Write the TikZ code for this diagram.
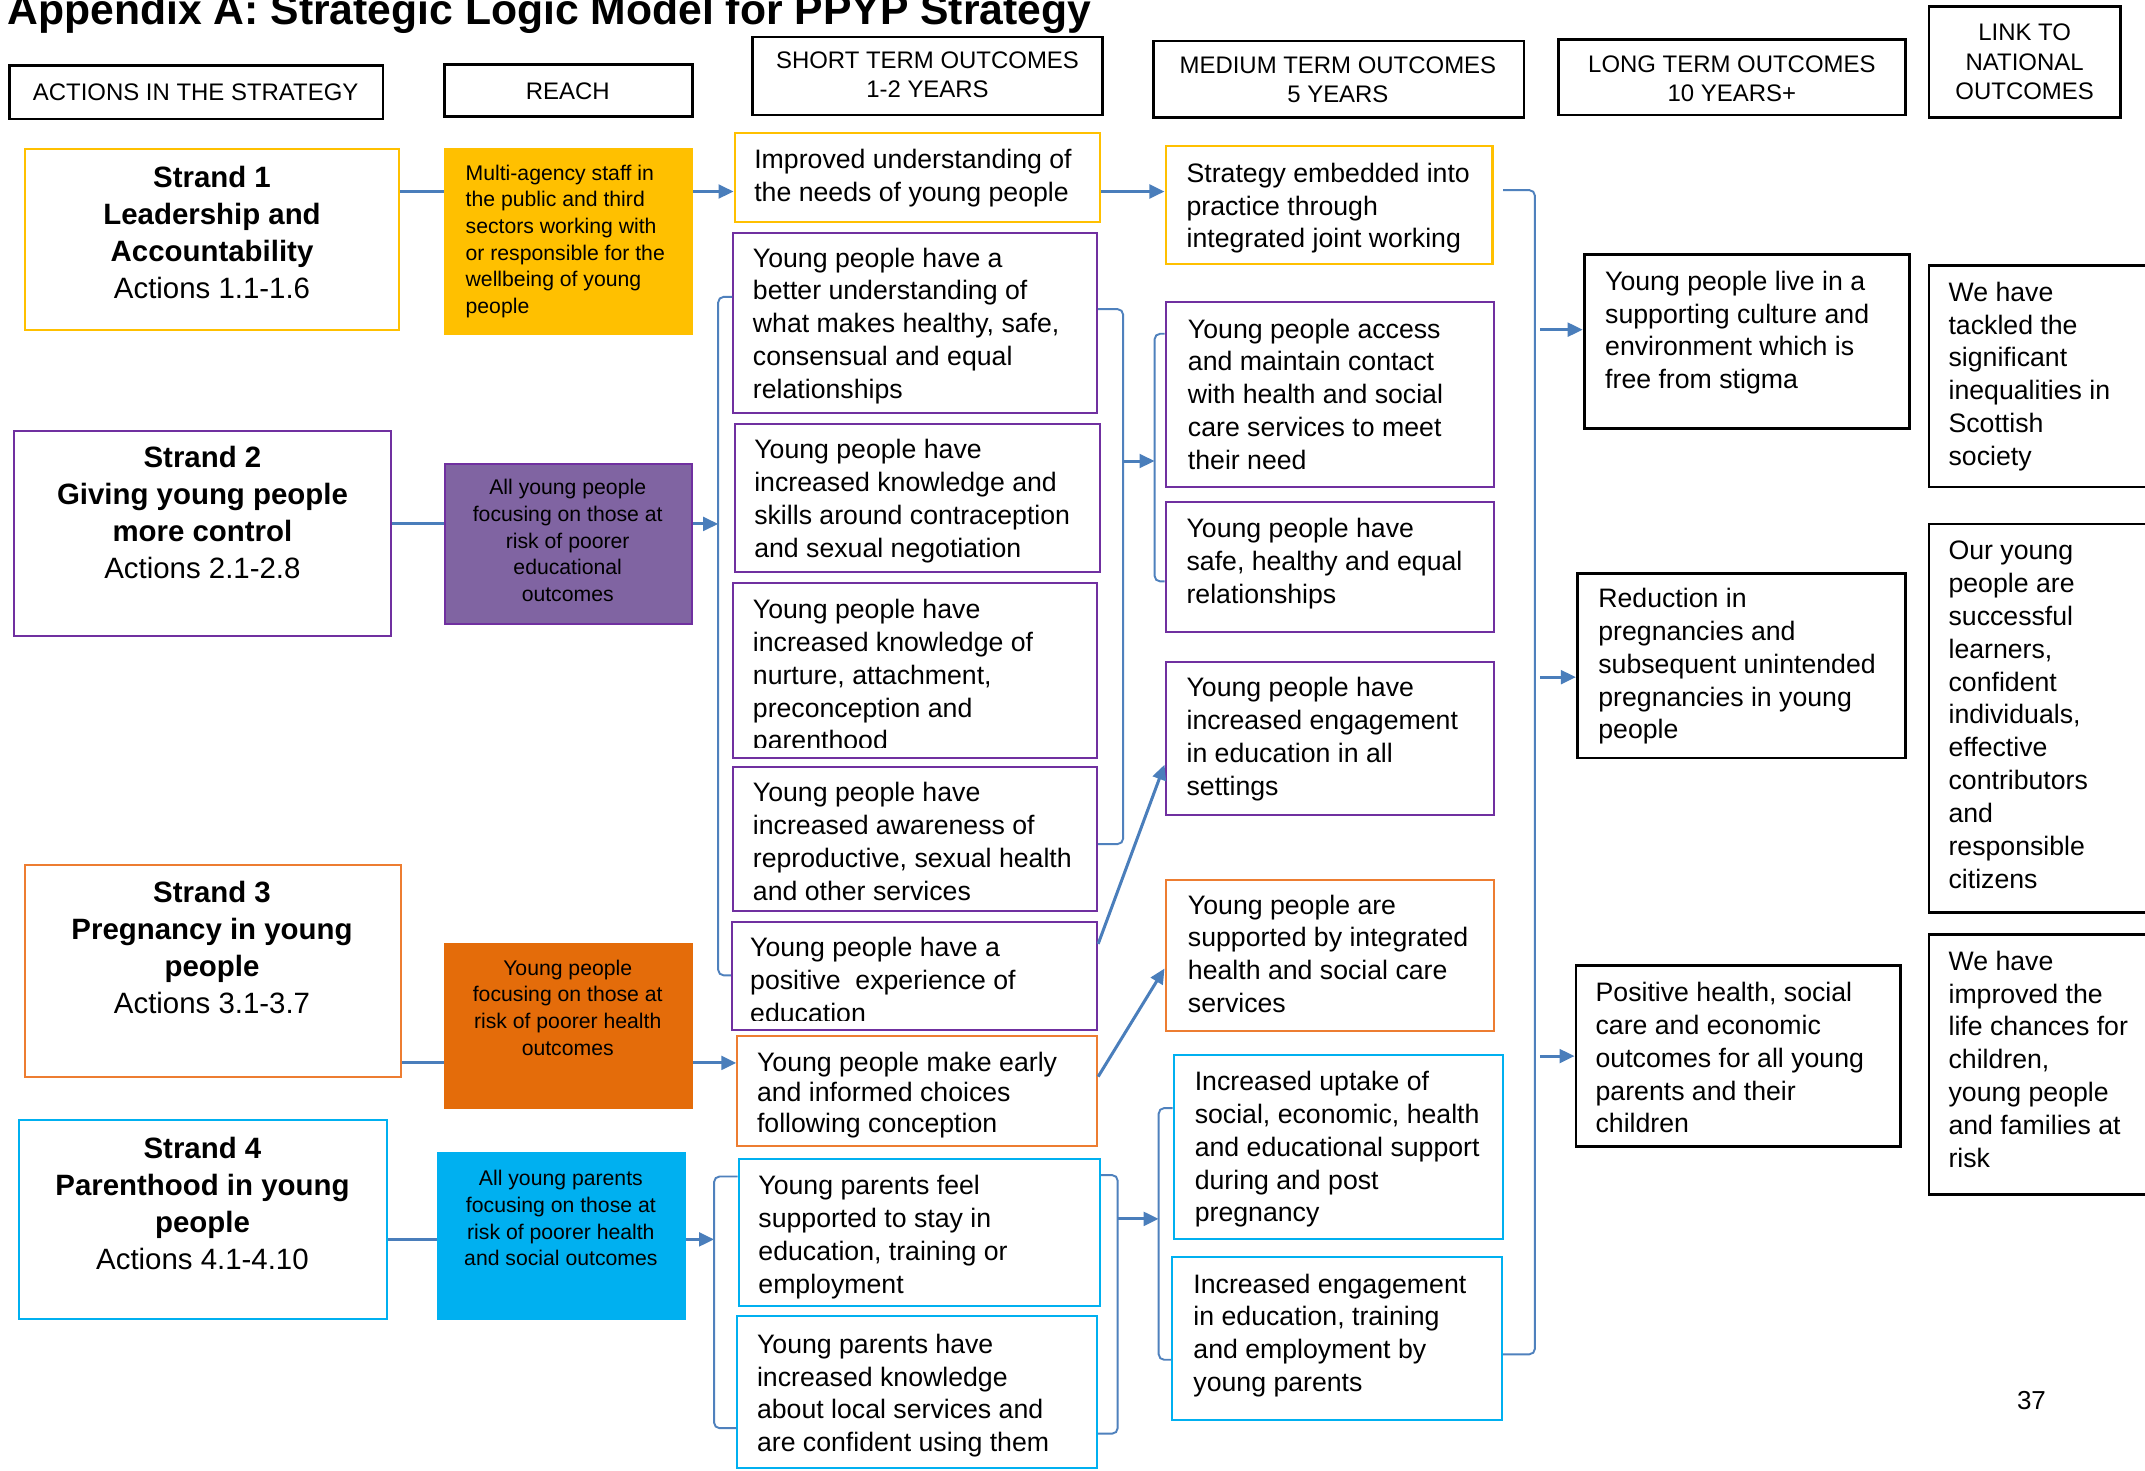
\documentclass[tikz,border=0pt]{standalone}
\usepackage{fontspec}
\setmainfont{Liberation Sans}
\usetikzlibrary{arrows.meta,fit,calc}
\definecolor{cyel}{HTML}{FFC000}
\definecolor{cpur}{HTML}{7030A0}
\definecolor{cpurfill}{HTML}{8064A2}
\definecolor{corgfill}{HTML}{E46C0A}
\definecolor{corg}{HTML}{ED7D31}
\definecolor{ccyan}{HTML}{00B0F0}
\definecolor{cblue}{HTML}{4A7EBB}
\definecolor{cbrk}{HTML}{4F81BD}
\newcommand\fmain{\fontsize{9.75}{12}\selectfont}
\newcommand\fmainb{\fontsize{9.75}{11.25}\selectfont}
\newcommand\fstrand{\fontsize{10.75}{13.5}\selectfont}
\newcommand\fhead{\fontsize{8.75}{10.75}\selectfont}
\newcommand\freach{\fontsize{7.75}{9.75}\selectfont}
\newcommand\ftitle{\fontsize{15.6}{18}\selectfont\bfseries}
\begin{document}
\begin{tikzpicture}[x=0.5pt,y=-0.5pt,
  bx/.style={draw, inner sep=0pt, line width=0.75pt},
  hb/.style={bx, draw=black, line width=1pt},
  txt/.style={anchor=north west, inner sep=0pt, align=left, font=\fmain},
  stx/.style={anchor=north, inner sep=0pt, align=center, font=\fstrand},
  htxt/.style={anchor=north, inner sep=0pt, align=center, font=\fhead},
  rtx/.style={anchor=north, inner sep=0pt, align=center, font=\freach},
  ln/.style={draw=cblue, line width=1.1pt},
  arr/.style={ln, -{Triangle[length=5.5pt,width=5pt]}},
  brk/.style={draw=cbrk, line width=0.7pt, rounded corners=2pt}]
\path[use as bounding box, fill=white] (0,0) rectangle (1568,1075);

% title
\node[anchor=base west, inner sep=0pt, font=\ftitle] (title) at (5,18) {Appendix A: Strategic Logic Model for PPYP Strategy};

% headers
\node[hb, fit={(7,48) (280,87)}] (h1) {};
\node[hb, fit={(325,47) (506,85)}] (h2) {};
\node[hb, fit={(550,27) (806,84)}] (h3) {};
\node[hb, fit={(843,30) (1114,86)}] (h4) {};
\node[hb, fit={(1139,29) (1393,84)}] (h5) {};
\node[hb, fit={(1410,5) (1550,86)}] (h6) {};
\node[htxt] (h1t) at (143,58.3) {\strut ACTIONS IN THE STRATEGY};
\node[htxt] (h2t) at (415,57.3) {\strut REACH};
\node[htxt] (h3t) at (678,34.3) {\strut SHORT TERM OUTCOMES\\1-2 YEARS};
\node[htxt] (h4t) at (978,38.3) {\strut MEDIUM TERM OUTCOMES\\5 YEARS};
\node[htxt] (h5t) at (1266,37.3) {\strut LONG TERM OUTCOMES\\10 YEARS+};
\node[htxt] (h6t) at (1480,14.3) {\strut LINK TO\\NATIONAL\\OUTCOMES};

% strands
\node[bx, draw=cyel, fit={(18,109) (292,241)}] (st1) {};
\node[bx, draw=cpur, fit={(10,315) (286,465)}] (st2) {};
\node[bx, draw=corg, fit={(18,632) (293,787)}] (st3) {};
\node[bx, draw=ccyan, fit={(14,819) (283,964)}] (st4) {};
\node[stx] (st1t) at (155,117.6) {\strut\textbf{Strand 1}\\\textbf{Leadership and}\\\textbf{Accountability}\\Actions 1.1-1.6};
\node[stx] (st2t) at (148,322.6) {\strut\textbf{Strand 2}\\\textbf{Giving young people}\\\textbf{more control}\\Actions 2.1-2.8};
\node[stx] (st3t) at (155,640.6) {\strut\textbf{Strand 3}\\\textbf{Pregnancy in young}\\\textbf{people}\\Actions 3.1-3.7};
\node[stx] (st4t) at (148,827.6) {\strut\textbf{Strand 4}\\\textbf{Parenthood in young}\\\textbf{people}\\Actions 4.1-4.10};

% reach
\node[bx, draw=cyel, fill=cyel, fit={(325,109) (506,244)}] (r1) {};
\node[bx, draw=cpur, fill=cpurfill, fit={(325,339) (506,456)}] (r2) {};
\node[bx, draw=corgfill, fill=corgfill, fit={(325,690) (506,810)}] (r3) {};
\node[bx, draw=ccyan, fill=ccyan, fit={(320,843) (501,964)}] (r4) {};
\node[rtx, anchor=north west, align=left] (r1t) at (340,117.7) {\strut Multi-agency staff in\\the public and third\\sectors working with\\or responsible for the\\wellbeing of young\\people};
\node[rtx] (r2t) at (415,347.7) {\strut All young people\\focusing on those at\\risk of poorer\\educational\\outcomes};
\node[rtx] (r3t) at (415,698.7) {\strut Young people\\focusing on those at\\risk of poorer health\\outcomes};
\node[rtx] (r4t) at (410,852.7) {\strut All young parents\\focusing on those at\\risk of poorer health\\and social outcomes};

% short term
\node[bx, draw=cyel, fit={(537,97) (804,162)}] (s1) {};
\node[bx, draw=cpur, fit={(536,170) (802,302)}] (s2) {};
\node[bx, draw=cpur, fit={(537,310) (804,418)}] (s3) {};
\node[bx, draw=cpur, fit={(536,426) (802,554)}] (s4) {};
\node[bx, draw=cpur, fit={(536,561) (802,666)}] (s5) {};
\node[bx, draw=cpur, fit={(535,674) (802,753)}] (s6) {};
\node[bx, draw=corg, fit={(539,757) (802,838)}] (s7) {};
\node[bx, draw=ccyan, fit={(540,847) (804,955)}] (s8) {};
\node[bx, draw=ccyan, fit={(539,962) (802,1073)}] (s9) {};
\node[txt] (s1t) at (551,106) {\strut Improved understanding of\\the needs of young people};
\node[txt] (s2t) at (550,178) {\strut Young people have a\\better understanding of\\what makes healthy, safe,\\consensual and equal\\relationships};
\node[txt] (s3t) at (551,318) {\strut Young people have\\increased knowledge and\\skills around contraception\\and sexual negotiation};
\begin{scope}
\clip (536,426) rectangle (802,546.5);
\node[txt] (s4t) at (550,435) {\strut Young people have\\increased knowledge of\\nurture, attachment,\\preconception and\\parenthood};
\end{scope}
\node[txt] (s5t) at (550,569) {\strut Young people have\\increased awareness of\\reproductive, sexual health\\and other services};
\begin{scope}
\clip (535,674) rectangle (802,746);
\node[txt] (s6t) at (548,682) {\strut Young people have a\\positive\ \ experience of\\education};
\end{scope}
\node[txt, font=\fmainb] (s7t) at (553,766.75) {\strut Young people make early\\and informed choices\\following conception};
\node[txt] (s8t) at (554,856) {\strut Young parents feel\\supported to stay in\\education, training or\\employment};
\node[txt] (s9t) at (553,972) {\strut Young parents have\\increased knowledge\\about local services and\\are confident using them};

% medium term
\node[bx, draw=cyel, fit={(852,107) (1091,193)}] (m1) {};
\node[bx, draw=cpur, fit={(852,221) (1092,356)}] (m2) {};
\node[bx, draw=cpur, fit={(852,367) (1092,462)}] (m3) {};
\node[bx, draw=cpur, fit={(852,484) (1092,596)}] (m4) {};
\node[bx, draw=corg, fit={(852,643) (1092,754)}] (m5) {};
\node[bx, draw=ccyan, fit={(858,771) (1099,906)}] (m6) {};
\node[bx, draw=ccyan, fit={(857,919) (1098,1038)}] (m7) {};
\node[txt] (m1t) at (867,116) {\strut Strategy embedded into\\practice through\\integrated joint working};
\node[txt] (m2t) at (868,230) {\strut Young people access\\and maintain contact\\with health and social\\care services to meet\\their need};
\node[txt] (m3t) at (867,376) {\strut Young people have\\safe, healthy and equal\\relationships};
\node[txt] (m4t) at (867,492) {\strut Young people have\\increased engagement\\in education in all\\settings};
\node[txt] (m5t) at (868,651) {\strut Young people are\\supported by integrated\\health and social care\\services};
\node[txt] (m6t) at (873,780) {\strut Increased uptake of\\social, economic, health\\and educational support\\during and post\\pregnancy};
\node[txt] (m7t) at (872,928) {\strut Increased engagement\\in education, training\\and employment by\\young parents};

% long term
\node[hb, fit={(1158,186) (1396,313)}] (l1) {};
\node[hb, fit={(1153,419) (1393,554)}] (l2) {};
\node[hb, fit={(1152,706) (1389,838)}] (l3) {};
\node[txt] (l1t) at (1173,195) {\strut Young people live in a\\supporting culture and\\environment which is\\free from stigma};
\node[txt] (l2t) at (1168,427) {\strut Reduction in\\pregnancies and\\subsequent unintended\\pregnancies in young\\people};
\node[txt] (l3t) at (1166,715) {\strut Positive health, social\\care and economic\\outcomes for all young\\parents and their\\children};

% national outcomes
\node[hb, fit={(1410,194) (1575,356)}] (n1) {};
\node[hb, fit={(1410,383) (1575,667)}] (n2) {};
\node[hb, fit={(1410,683) (1575,873)}] (n3) {};
\node[txt] (n1t) at (1424,203) {\strut We have\\tackled the\\significant\\inequalities in\\Scottish\\society};
\node[txt] (n2t) at (1424,392) {\strut Our young\\people are\\successful\\learners,\\confident\\individuals,\\effective\\contributors\\and\\responsible\\citizens};
\node[txt] (n3t) at (1424,692) {\strut We have\\improved the\\life chances for\\children,\\young people\\and families at\\risk};

\node[inner sep=0pt, font=\fontsize{9.5}{11}\selectfont] (pg) at (1485,1024) {37};

% helper coordinates
\coordinate (y139) at (0,139);
\coordinate (y140) at (0,140);
\coordinate (y217) at (0,217);
\coordinate (y226) at (0,226);
\coordinate (y241) at (0,241);
\coordinate (y244) at (0,244);
\coordinate (y383) at (0,383);
\coordinate (y425) at (0,425);
\coordinate (y495) at (0,495);
\coordinate (y559) at (0,559);
\coordinate (y617) at (0,617);
\coordinate (y690) at (0,690);
\coordinate (y708) at (0,708);
\coordinate (y713) at (0,713);
\coordinate (y772) at (0,772);
\coordinate (y777) at (0,777);
\coordinate (y787) at (0,787);
\coordinate (y810) at (0,810);
\coordinate (y859) at (0,859);
\coordinate (y860) at (0,860);
\coordinate (y906) at (0,906);
\coordinate (y990) at (0,990);
\coordinate (y994) at (0,994);
\coordinate (y1044) at (0,1044);
\coordinate (y1048) at (0,1048);
\coordinate (bA) at (525,383);
\coordinate (bB) at (821,337);
\coordinate (bC) at (844,337);
\coordinate (bD) at (522,906);
\coordinate (bE) at (817,891);
\coordinate (bF) at (847,891);
\coordinate (bG) at (1122,495);

% strand 1
\draw[ln] (st1.east |- y140) -- (r1.west |- y140);
\draw[arr] (r1.east |- y140) -- (s1.west |- y140);
\draw[arr] (s1.east |- y140) -- (m1.west |- y140);
% strand 2
\draw[ln] (st2.east |- y383) -- (r2.west |- y383);
\draw[arr] (r2.east |- y383) -- (bA);
\draw[brk] (s2.west |- y217) -| (bA) |- (s6.west |- y713);
\draw[brk] (s2.east |- y226) -| (bB) |- (s5.east |- y617);
\draw[arr] (bB) -- (bC);
\draw[brk] (m2.west |- y244) -| (bC) |- (m3.west |- y425);
\draw[arr] (s6.east |- y690) -- (m4.west |- y559);
% strand 3
\draw[ln] (st3.east |- y777) -- (r3.west |- y777);
\draw[arr] (r3.east |- y777) -- (s7.west |- y777);
\draw[arr] (s7.east |- y787) -- (m5.west |- y708);
% strand 4
\draw[ln] (st4.east |- y906) -- (r4.west |- y906);
\draw[arr] (r4.east |- y906) -- (bD);
\draw[brk] (s8.west |- y860) -| (bD) |- (s9.west |- y1044);
\draw[brk] (s8.east |- y859) -| (bE) |- (s9.east |- y1048);
\draw[arr] (bE) -- (bF);
\draw[brk] (m6.west |- y810) -| (bF) |- (m7.west |- y994);
% to long term
\draw[brk] ($(m1.east |- y139)+(7,0)$) -| (bG) |- (m7.east |- y990);
\draw[arr] ($(bG |- y241)+(4,0)$) -- (l1.west |- y241);
\draw[arr] ($(bG |- y495)+(4,0)$) -- (l2.west |- y495);
\draw[arr] ($(bG |- y772)+(4,0)$) -- (l3.west |- y772);
\end{tikzpicture}
\end{document}
